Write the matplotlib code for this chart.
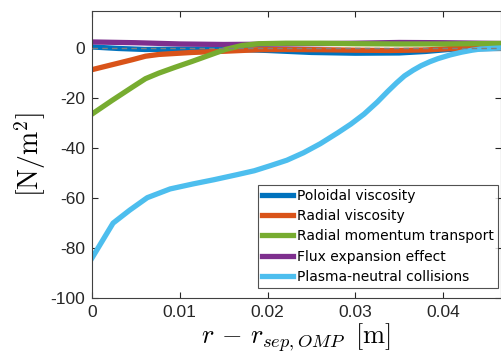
import matplotlib
matplotlib.use("Agg")
import matplotlib.pyplot as plt
import numpy as np

plt.rcParams['font.family'] = ['Liberation Sans', 'DejaVu Sans']
plt.rcParams['mathtext.fontset'] = 'cm'

# Data (x in m, forces in N/m^2)
x_pol = [0.0, 0.003, 0.006, 0.010, 0.015, 0.020, 0.025, 0.030, 0.035, 0.038, 0.041, 0.0466]
y_pol = [0.6, 0.0, -0.4, -0.3, -0.2, -0.8, -1.6, -1.9, -1.8, -1.2, -0.3, 0.0]

x_rad = [0.0, 0.0023, 0.0046, 0.0061, 0.0076, 0.0114, 0.0152, 0.019, 0.0221, 0.026,
         0.030, 0.034, 0.038, 0.0406, 0.0466]
y_rad = [-8.5, -6.5, -4.5, -3.1, -2.4, -1.6, -1.1, -0.5, -0.4, -0.5,
         -0.7, -0.8, -0.6, -0.1, 0.1]

x_mom = [0.0, 0.0023, 0.0046, 0.0061, 0.0076, 0.0095, 0.0114, 0.0133, 0.0152, 0.0171,
         0.019, 0.0221, 0.026, 0.030, 0.035, 0.040, 0.0466]
y_mom = [-26.3, -20.8, -15.5, -12.1, -9.9, -7.5, -5.2, -2.8, -0.4, 1.2,
         1.9, 2.1, 2.1, 1.9, 1.8, 1.8, 2.0]

x_flux = [0.0, 0.005, 0.010, 0.015, 0.020, 0.025, 0.030, 0.035, 0.040, 0.0466]
y_flux = [2.6, 2.3, 1.8, 1.6, 1.7, 1.9, 2.1, 2.4, 2.3, 2.0]

x_neu = [0.0, 0.0012, 0.0024, 0.0043, 0.0063, 0.0089, 0.0115, 0.0139, 0.0165, 0.0185,
         0.0203, 0.0222, 0.0241, 0.0260, 0.0280, 0.0295, 0.0310, 0.0325, 0.0337, 0.0347,
         0.0356, 0.0366, 0.0375, 0.0385, 0.0394, 0.0408, 0.0421, 0.0433, 0.0443, 0.0466]
y_neu = [-84.0, -77.0, -70.0, -64.8, -59.8, -56.3, -54.3, -52.6, -50.6, -49.0,
         -47.0, -44.8, -41.8, -38.2, -33.8, -30.3, -26.3, -21.5, -17.2, -13.8,
         -11.0, -8.7, -6.9, -5.3, -4.1, -2.6, -1.5, -0.7, -0.2, 0.2]

labels = ['Poloidal viscosity', 'Radial viscosity', 'Radial momentum transport',
          'Flux expansion effect', 'Plasma-neutral collisions']
colors = ['#0072BD', '#D95319', '#77AC30', '#7E2F8E', '#4DBEEE']
zorders = [2.0, 2.1, 2.4, 2.3, 2.5]

xticks = [0, 0.01, 0.02, 0.03, 0.04]
xticklabels = ['0', '0.01', '0.02', '0.03', '0.04']
yticks = [0, -20, -40, -60, -80, -100]
yticklabels = ['0', '-20', '-40', '-60', '-80', '-100']

fig = plt.figure(figsize=(5.01, 3.56), dpi=100)
ax = fig.add_axes([0.1836, 0.163, 0.8164, 0.806])

series = [(x_pol, y_pol), (x_rad, y_rad), (x_mom, y_mom), (x_flux, y_flux), (x_neu, y_neu)]
for (xs, ys), lab, c, z in zip(series, labels, colors, zorders):
    ax.plot(xs, ys, color=c, lw=3.8, label=lab, solid_joinstyle='round', zorder=z)

ax.axhline(0, color='#808080', ls='--', lw=1.0, dashes=(4, 3), zorder=10)

ax.set_xlim(0, 0.0466)
ax.set_ylim(-100, 15)
ax.set_xticks(xticks)
ax.set_xticklabels(xticklabels)
ax.set_yticks(yticks)
ax.set_yticklabels(yticklabels)
ax.tick_params(direction='in', length=4, width=0.8, colors='#262626', labelsize=12.5,
               top=True, right=True, pad=5)
for s in ax.spines.values():
    s.set_color('#404040')
    s.set_linewidth(0.8)

ax.set_xlabel(r'$r\,-\,r_{sep,OMP}\;\;\mathrm{[m]}$', fontsize=19, labelpad=1)
ax.set_ylabel(r'$\mathrm{[N/m^2]}$', fontsize=20, labelpad=2)

leg = ax.legend(loc='lower right', bbox_to_anchor=(0.993, 0.035),
                prop={'family': 'DejaVu Sans', 'size': 10},
                frameon=True, fancybox=False, handlelength=2.2, handletextpad=0.3,
                borderpad=0.3, labelspacing=0.45, borderaxespad=0)
leg.set_zorder(20)
leg.get_frame().set_edgecolor('#262626')
leg.get_frame().set_linewidth(0.8)

fig.savefig('out.png', dpi=100)
